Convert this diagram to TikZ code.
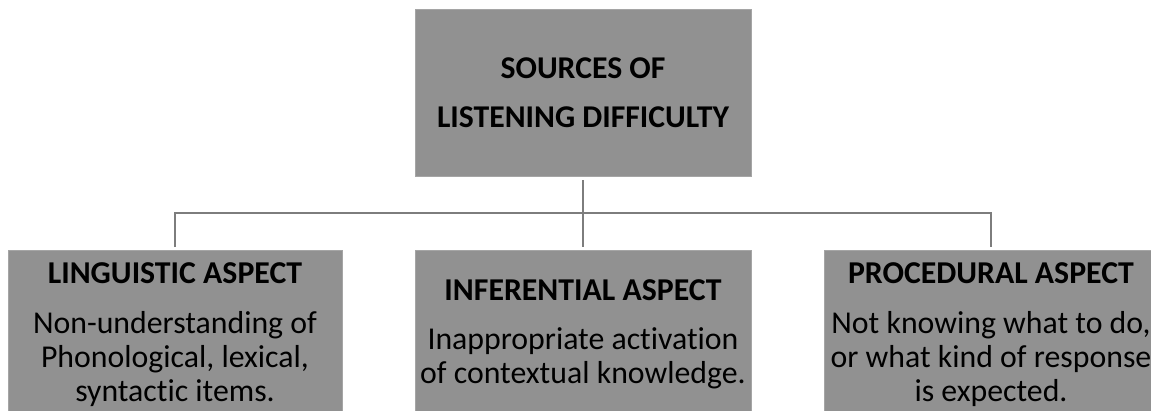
\documentclass[tikz,border=0pt]{standalone}
\usepackage{fontspec}
\setmainfont{Carlito}[Ligatures=NoCommon]
\definecolor{boxfill}{RGB}{145,145,145}
\definecolor{boxedge}{RGB}{165,165,165}
\definecolor{conncol}{RGB}{125,125,125}
\begin{document}
\begin{tikzpicture}[x=1pt,y=-1pt,
  box/.style={rectangle, fill=boxfill, draw=boxedge, line width=0.8pt, inner sep=0pt},
  toptxt/.style={font=\fontsize{31.7}{36}\selectfont\bfseries, anchor=base, inner sep=0pt},
  headtxt/.style={font=\fontsize{31.8}{36}\selectfont\bfseries, anchor=base, inner sep=0pt},
  bodytxt/.style={font=\fontsize{31.8}{36}\selectfont, anchor=base, inner sep=0pt},
  conn/.style={draw=conncol, line width=2pt}]
\useasboundingbox (0,0) rectangle (1151,410);
\clip (0,0) rectangle (1151,410);
% boxes
\node[box, minimum width=336pt, minimum height=167pt] (top) at (583,92.5) {};
\node[box, minimum width=334pt, minimum height=170pt] (left) at (175,335) {};
\node[box, minimum width=336pt, minimum height=170pt] (mid) at (583,335) {};
\node[box, minimum width=334pt, minimum height=170pt] (right) at (991,335) {};
% connectors
\coordinate (bar) at (583,213);
\draw[conn, shorten <=4pt, shorten >=3pt] (top.south) -- (mid.north);
\draw[conn, shorten <=2.5pt, shorten >=2.5pt] (left.north) -- (left.north |- bar) -- (right.north |- bar) -- (right.north);
% texts
\node[toptxt] (t1) at (583,78) {SOURCES OF};
\node[toptxt] (t2) at (583,127) {LISTENING DIFFICULTY};
\node[headtxt] (lh) at (175,283) {LINGUISTIC ASPECT};
\node[bodytxt] (l1) at (175,333) {Non-understanding of};
\node[bodytxt] (l2) at (175,367) {Phonological, lexical,};
\node[bodytxt] (l3) at (175,401) {syntactic items.};
\node[headtxt] (mh) at (583,300) {INFERENTIAL ASPECT};
\node[bodytxt] (m1) at (583,349) {Inappropriate activation};
\node[bodytxt] (m2) at (583,383) {of contextual knowledge.};
\node[headtxt] (rh) at (991,283) {PROCEDURAL ASPECT};
\node[bodytxt] (r1) at (991,333) {Not knowing what to do,};
\node[bodytxt] (r2) at (991,367) {or what kind of response};
\node[bodytxt] (r3) at (991,401) {is expected.};
\end{tikzpicture}
\end{document}
